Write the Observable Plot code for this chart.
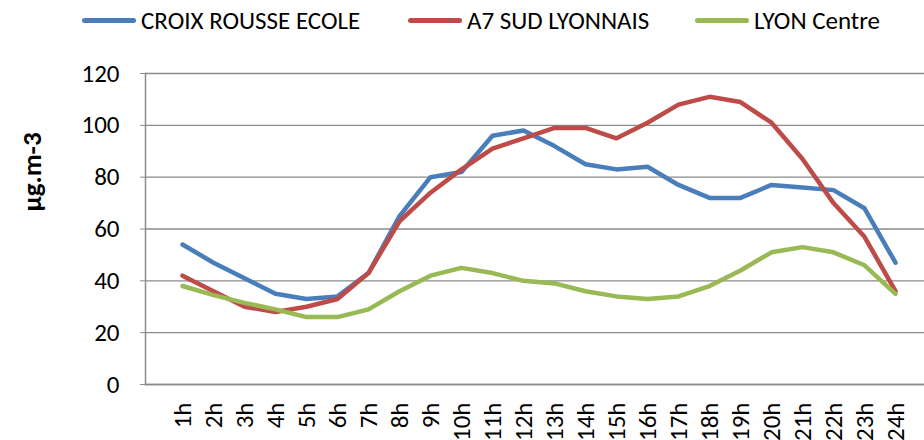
<!DOCTYPE html>
<html>
<head>
<meta charset="utf-8">
<script src="https://cdn.jsdelivr.net/npm/d3@7"></script>
<script src="https://cdn.jsdelivr.net/npm/@observablehq/plot@0.6"></script>
<style>
  html, body { margin: 0; padding: 0; background: #fff; }
  #wrap { position: relative; width: 924px; height: 440px; overflow: hidden; font-family: Carlito, Lato, sans-serif; color: #000; }
  #legend { position: absolute; left: 0; top: 0; height: 50px; width: 924px; }
  .item { position: absolute; top: 6px; display: flex; align-items: center; height: 28px; font-size: 25px; white-space: nowrap; }
  .sw { width: 54px; height: 5px; border-radius: 3px; margin-right: 5px; }
  #ytitle { position: absolute; left: 31px; top: 172px; transform: translate(-50%, -50%) rotate(-90deg); font-weight: bold; font-size: 27px; white-space: nowrap; }
  #chart { position: absolute; left: 0; top: 50px; }
</style>
</head>
<body>
<div id="wrap">
  <div id="legend"></div>
  <div id="ytitle">µg.m-3</div>
  <div id="chart"></div>
</div>
<script>
const hours = ["1h","2h","3h","4h","5h","6h","7h","8h","9h","10h","11h","12h","13h","14h","15h","16h","17h","18h","19h","20h","21h","22h","23h","24h"];
const seriesNames = ["CROIX ROUSSE ECOLE", "A7 SUD LYONNAIS", "LYON Centre"];
const croixRousse = [54, 47, 41, 35, 33, 34, 43, 65, 80, 82, 96, 98, 92, 85, 83, 84, 77, 72, 72, 77, 76, 75, 68, 47];
const a7Sud = [42, 36, 30, 28, 30, 33, 43, 63, 74, 83, 91, 95, 99, 99, 95, 101, 108, 111, 109, 101, 87, 70, 57, 36];
const lyonCentre = [38, 34.5, 31.5, 29, 26, 26, 29, 36, 42, 45, 43, 40, 39, 36, 34, 33, 34, 38, 44, 51, 53, 51, 46, 35];
const yTicks = [0, 20, 40, 60, 80, 100, 120];
const colors = ["#4A7EBB", "#BE4B48", "#98B954"];

const values = [croixRousse, a7Sud, lyonCentre];
const data = [];
seriesNames.forEach((s, i) => hours.forEach((h, j) => data.push({series: s, hour: h, value: values[i][j]})));

// Legend
const legendPos = [82, 408, 695];
const legend = document.getElementById("legend");
seriesNames.forEach((s, i) => {
  const it = document.createElement("div");
  it.className = "item";
  it.style.left = legendPos[i] + "px";
  it.innerHTML = `<span class="sw" style="background:${colors[i]}"></span><span>${s}</span>`;
  legend.appendChild(it);
});

const font = "Carlito, Lato, sans-serif";
const plot = Plot.plot({
  width: 924,
  height: 390,
  marginTop: 23,
  marginBottom: 56,
  marginLeft: 145,
  marginRight: 0,
  style: {fontFamily: font, fontSize: "24px", color: "#000", background: "transparent", overflow: "visible"},
  x: {type: "point", domain: hours, range: [162, 915]},
  y: {domain: [0, 120]},
  color: {domain: seriesNames, range: colors},
  marks: [
    Plot.gridY(yTicks, {stroke: "#8a8a8a", strokeOpacity: 1, strokeWidth: 1.3}),
    Plot.ruleY([0], {stroke: "#8a8a8a", strokeWidth: 1.5}),
    Plot.frame({anchor: "left", stroke: "#8a8a8a", strokeWidth: 1.5}),
    Plot.axisY(yTicks, {tickSize: 5, tickPadding: 21, stroke: "#8a8a8a", label: null, fontSize: 25}),
    Plot.axisX(hours, {tickSize: 0, tickPadding: 18, tickRotate: -90, textAnchor: "end", label: null, fontSize: 25}),
    Plot.line(data, {x: "hour", y: "value", z: "series", stroke: "series", strokeWidth: 4.5, strokeLinejoin: "round", strokeLinecap: "round"})
  ]
});
document.getElementById("chart").appendChild(plot);
</script>
</body>
</html>
